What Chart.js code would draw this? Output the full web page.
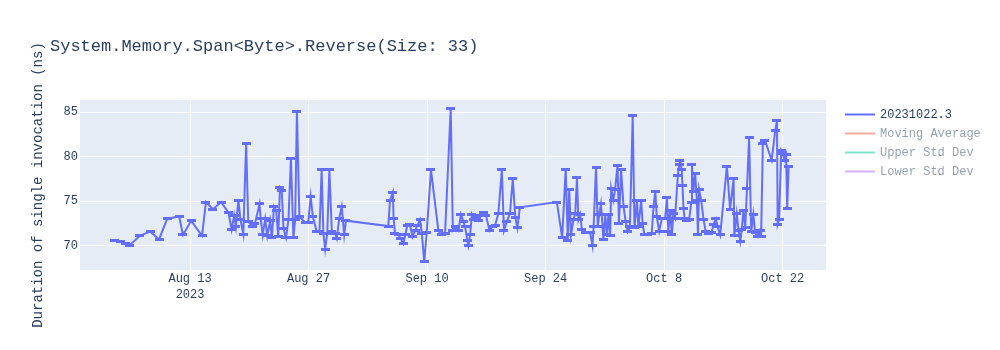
<!DOCTYPE html>
<html>
<head>
<meta charset="utf-8">
<title>System.Memory.Span&lt;Byte&gt;.Reverse(Size: 33)</title>
<script src="https://cdn.jsdelivr.net/npm/chart.js@4.4.0/dist/chart.umd.min.js"></script>
<style>
  html, body { margin: 0; padding: 0; background: #fff; }
  #wrap { width: 1000px; height: 350px; }
</style>
</head>
<body>
<div id="wrap"><canvas id="chart" width="1000" height="350"></canvas></div>
<script>
// chart data
const chartTitle = "System.Memory.Span<Byte>.Reverse(Size: 33)";
const yTitle = "Duration of single invocation (ns)";
const seriesNames = ["20231022.3", "Moving Average", "Upper Std Dev", "Lower Std Dev"];
const seriesColors = ["#636efa", "rgba(239,85,59,0.5)", "rgba(0,204,150,0.5)", "rgba(171,99,250,0.5)"];

const tickDates = ["2023-08-13", "2023-08-27", "2023-09-10", "2023-09-24", "2023-10-08", "2023-10-22"];
const tickLabels = ["Aug 13", "Aug 27", "Sep 10", "Sep 24", "Oct 8", "Oct 22"];
const tickYear = "2023";
const yTicks = [70, 75, 80, 85];
const xRange = ["2023-07-31T00:00", "2023-10-27T03:00"];
const yRange = [67.27, 86.35];

const runTimes = [
  "2023-08-04T03", "2023-08-04T20", "2023-08-05T08", "2023-08-05T19", "2023-08-07T02", "2023-08-08T07",
  "2023-08-09T08", "2023-08-10T07", "2023-08-11T17", "2023-08-12T04", "2023-08-13T03", "2023-08-14T10",
  "2023-08-14T21", "2023-08-15T17", "2023-08-16T16", "2023-08-17T13", "2023-08-17T22", "2023-08-18T05",
  "2023-08-18T10", "2023-08-18T17", "2023-08-18T23", "2023-08-19T07", "2023-08-19T15", "2023-08-19T21",
  "2023-08-20T10", "2023-08-20T16", "2023-08-21T05", "2023-08-21T08", "2023-08-21T14", "2023-08-21T21",
  "2023-08-22T03", "2023-08-22T11", "2023-08-22T16", "2023-08-22T22", "2023-08-23T04", "2023-08-23T10",
  "2023-08-23T15", "2023-08-23T20", "2023-08-24T01", "2023-08-24T08", "2023-08-24T15", "2023-08-24T22",
  "2023-08-25T05", "2023-08-25T10", "2023-08-25T15", "2023-08-25T22", "2023-08-26T14", "2023-08-26T23",
  "2023-08-27T06", "2023-08-27T12", "2023-08-27T23", "2023-08-28T07", "2023-08-28T13", "2023-08-28T18",
  "2023-08-28T23", "2023-08-29T05", "2023-08-29T11", "2023-08-29T18", "2023-08-30T03", "2023-08-30T08",
  "2023-08-30T15", "2023-08-30T22", "2023-08-31T05", "2023-08-31T10",
  "2023-09-05T10", "2023-09-05T15", "2023-09-05T23", "2023-09-06T01", "2023-09-06T05", "2023-09-06T15",
  "2023-09-06T21", "2023-09-07T05", "2023-09-07T10", "2023-09-07T16", "2023-09-07T23", "2023-09-08T07",
  "2023-09-08T14", "2023-09-08T21", "2023-09-09T04", "2023-09-09T09", "2023-09-09T16", "2023-09-09T23",
  "2023-09-10T11", "2023-09-11T08", "2023-09-11T16", "2023-09-12T03", "2023-09-12T19", "2023-09-13T01",
  "2023-09-13T10", "2023-09-13T17", "2023-09-14T00", "2023-09-14T07", "2023-09-14T12", "2023-09-14T18",
  "2023-09-14T21", "2023-09-15T02", "2023-09-15T07", "2023-09-15T13", "2023-09-15T19", "2023-09-16T02",
  "2023-09-16T08", "2023-09-16T16", "2023-09-16T23", "2023-09-17T09", "2023-09-17T18", "2023-09-18T01",
  "2023-09-18T10", "2023-09-18T20", "2023-09-19T02", "2023-09-19T10", "2023-09-19T19", "2023-09-20T03",
  "2023-09-20T10", "2023-09-20T16", "2023-09-20T23",
  "2023-09-25T08", "2023-09-25T23", "2023-09-26T09", "2023-09-26T15", "2023-09-26T19", "2023-09-27T00",
  "2023-09-27T07", "2023-09-27T12", "2023-09-27T17", "2023-09-27T21", "2023-09-28T02", "2023-09-28T07",
  "2023-09-28T18", "2023-09-29T06", "2023-09-29T13", "2023-09-29T16", "2023-09-29T23", "2023-09-30T04",
  "2023-09-30T08", "2023-09-30T13", "2023-09-30T20", "2023-10-01T01", "2023-10-01T06", "2023-10-01T10",
  "2023-10-01T15", "2023-10-01T18", "2023-10-02T00", "2023-10-02T05", "2023-10-02T12", "2023-10-02T16",
  "2023-10-02T22", "2023-10-03T05", "2023-10-03T11", "2023-10-03T17", "2023-10-03T23", "2023-10-04T07",
  "2023-10-04T12", "2023-10-04T19", "2023-10-04T23", "2023-10-05T07", "2023-10-05T11", "2023-10-05T16",
  "2023-10-06T02", "2023-10-06T13", "2023-10-06T18", "2023-10-06T23", "2023-10-07T03", "2023-10-07T10",
  "2023-10-07T18", "2023-10-08T03", "2023-10-08T08", "2023-10-08T12", "2023-10-08T17", "2023-10-08T22",
  "2023-10-09T02", "2023-10-09T07", "2023-10-09T15", "2023-10-09T19", "2023-10-09T21", "2023-10-10T02",
  "2023-10-10T04", "2023-10-10T07", "2023-10-10T10", "2023-10-10T16", "2023-10-10T23", "2023-10-11T05",
  "2023-10-11T07", "2023-10-11T11", "2023-10-11T16", "2023-10-11T21", "2023-10-12T00", "2023-10-12T03",
  "2023-10-12T09", "2023-10-12T16", "2023-10-12T22", "2023-10-13T06", "2023-10-13T15", "2023-10-13T20",
  "2023-10-14T03", "2023-10-14T08", "2023-10-14T15", "2023-10-15T10", "2023-10-15T19", "2023-10-16T05",
  "2023-10-16T07", "2023-10-16T14", "2023-10-16T19", "2023-10-17T00", "2023-10-17T04", "2023-10-17T09",
  "2023-10-17T14", "2023-10-17T19", "2023-10-18T01", "2023-10-18T07", "2023-10-18T13", "2023-10-18T18",
  "2023-10-19T02", "2023-10-19T08", "2023-10-19T11", "2023-10-19T16", "2023-10-19T22", "2023-10-20T17",
  "2023-10-21T03", "2023-10-21T08", "2023-10-21T10", "2023-10-21T14", "2023-10-21T20", "2023-10-22T00",
  "2023-10-22T05", "2023-10-22T10", "2023-10-22T13", "2023-10-22T17"
];

const durations = [
  70.6, 70.5, 70.3, 70.0, 71.1, 71.6,
  70.7, 73.0, 73.3, 71.2, 72.8, 71.1,
  74.9, 74.1, 74.9, 73.7, 71.8, 73.4,
  72.1, 75.1, 72.9, 71.3, 81.5, 72.7,
  72.1, 72.5, 74.7, 73.1, 71.2, 73.0,
  71.1, 72.8, 70.9, 74.4, 74.0, 71.0,
  76.5, 76.2, 71.9, 70.9, 72.9, 79.8,
  70.9, 72.9, 85.1, 73.3, 72.6, 72.6,
  75.5, 73.3, 71.6, 71.6, 78.5, 71.4,
  69.6, 71.4, 78.5, 71.6, 71.4, 70.8,
  73.1, 74.4, 71.2, 72.8,
  72.2, 75.1, 76.0, 73.1, 71.4, 71.2,
  70.8, 70.2, 71.2, 72.3, 72.4, 71.0,
  71.7, 72.3, 72.9, 71.4, 68.2, 71.5,
  78.5, 71.7, 71.2, 71.4, 85.4, 71.7,
  72.1, 71.7, 73.5, 72.7, 72.1, 70.6,
  70.0, 71.2, 73.5, 72.9, 73.2, 72.8,
  73.4, 73.7, 73.4, 71.7, 72.2, 72.3,
  73.6, 78.5, 71.7, 72.7, 73.6, 77.5,
  73.2, 72.0, 74.3,
  74.9, 70.9, 78.6, 70.6, 76.3, 71.2,
  72.9, 73.6, 77.6, 72.9, 73.5, 71.8,
  71.5, 71.5, 70.0, 72.1, 78.8, 72.1,
  73.5, 74.7, 70.7, 73.5, 71.2, 73.5,
  71.1, 76.4, 75.1, 76.3, 79.0, 72.5,
  78.5, 74.4, 72.7, 71.6, 72.1, 84.6,
  72.0, 75.1, 72.1, 75.1, 72.5, 71.2,
  71.2, 71.4, 74.4, 76.1, 73.3, 71.6,
  73.1, 73.1, 75.4, 71.6, 74.0, 71.2,
  73.6, 73.1, 77.9, 79.1, 79.6, 78.5,
  76.8, 74.2, 73.1, 72.8, 72.9, 74.9,
  79.1, 76.1, 78.1, 75.1, 71.2, 76.3,
  75.1, 72.9, 71.6, 71.4, 71.5, 72.4,
  73.0, 72.1, 71.2, 78.9, 74.1, 77.5,
  71.1, 73.6, 71.7, 70.5, 71.8, 74.0,
  72.0, 76.4, 82.1, 71.6, 73.5, 71.5,
  71.0, 71.7, 71.0, 81.5, 81.8, 79.6,
  82.9, 84.0, 72.4, 72.9, 80.7, 80.4,
  79.6, 80.2, 74.2, 78.9
];

const fontFamily = "'Liberation Mono', 'Courier New', monospace";
const textColor = "#2a3f5f";

const toMs = (s) => Date.parse(s.length === 10 ? s + "T00:00Z" : (s.length === 13 ? s + ":00Z" : s + "Z"));
const points = runTimes.map((t, i) => ({ x: toMs(t), y: durations[i] }));
const tickMs = tickDates.map(toMs);

// small flat marker like the error-bar caps
function capMarker(color) {
  const c = document.createElement("canvas");
  c.width = 9;
  c.height = 3;
  const g = c.getContext("2d");
  g.fillStyle = color;
  g.fillRect(0, 0, 9, 3);
  return c;
}

const plotDecor = {
  id: "plotDecor",
  beforeDraw(chart) {
    const { ctx, chartArea: a } = chart;
    ctx.save();
    ctx.fillStyle = "#fff";
    ctx.fillRect(0, 0, chart.width, chart.height);
    ctx.fillStyle = "#e5ecf6";
    ctx.fillRect(a.left, a.top, a.right - a.left, a.bottom - a.top);
    ctx.restore();
  },
  afterDraw(chart) {
    const ctx = chart.ctx;
    ctx.save();
    // title
    ctx.font = "17px " + fontFamily;
    ctx.fillStyle = textColor;
    ctx.textAlign = "left";
    ctx.textBaseline = "middle";
    ctx.fillText(chartTitle, 50, 46);
    // legend
    ctx.font = "12px " + fontFamily;
    seriesNames.forEach((name, i) => {
      const y = 114.5 + i * 19;
      ctx.strokeStyle = seriesColors[i];
      ctx.lineWidth = 2;
      ctx.beginPath();
      ctx.moveTo(845, y);
      ctx.lineTo(875, y);
      ctx.stroke();
      ctx.fillStyle = i === 0 ? textColor : "rgba(42,63,95,0.5)";
      ctx.fillText(name, 880, y);
    });
    ctx.restore();
  }
};

Chart.defaults.font.family = fontFamily;
Chart.defaults.color = textColor;

new Chart(document.getElementById("chart"), {
  type: "line",
  data: {
    datasets: [{
      label: seriesNames[0],
      data: points,
      borderColor: seriesColors[0],
      backgroundColor: seriesColors[0],
      borderWidth: 2,
      tension: 0,
      pointStyle: capMarker(seriesColors[0]),
      pointRadius: 4,
      pointHoverRadius: 4
    }]
  },
  options: {
    responsive: false,
    animation: false,
    events: [],
    layout: { padding: { left: 0, top: 100, right: 174, bottom: 0 } },
    plugins: {
      legend: { display: false },
      title: { display: false },
      tooltip: { enabled: false }
    },
    scales: {
      x: {
        type: "linear",
        min: toMs(xRange[0]),
        max: toMs(xRange[1]),
        grid: { color: "#ffffff", lineWidth: 1, drawTicks: false },
        border: { display: false },
        afterBuildTicks: (scale) => { scale.ticks = tickMs.map(v => ({ value: v })); },
        afterFit: (scale) => { scale.height = 80; },
        ticks: {
          autoSkip: false,
          maxRotation: 0,
          padding: 1,
          color: textColor,
          font: { size: 12, lineHeight: 1.35 },
          callback: (v) => {
            const i = tickMs.indexOf(v);
            if (i < 0) return "";
            return i === 0 ? [tickLabels[i], tickYear] : tickLabels[i];
          }
        }
      },
      y: {
        min: yRange[0],
        max: yRange[1],
        grid: { color: "#ffffff", lineWidth: 1, drawTicks: false },
        border: { display: false },
        afterBuildTicks: (scale) => { scale.ticks = yTicks.map(v => ({ value: v })); },
        afterFit: (scale) => { scale.width = 80; },
        ticks: { padding: 2, color: textColor, font: { size: 12 } },
        title: {
          display: true,
          text: yTitle,
          color: textColor,
          font: { size: 14 },
          padding: { top: 30, bottom: 0 }
        }
      }
    }
  },
  plugins: [plotDecor]
});
</script>
</body>
</html>
